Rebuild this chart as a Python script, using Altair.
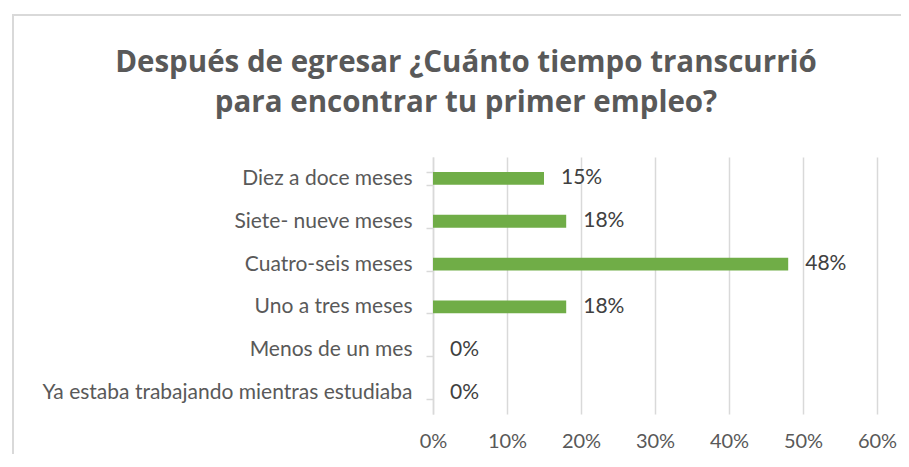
import altair as alt
import pandas as pd

categories = [
    "Diez a doce meses",
    "Siete- nueve meses",
    "Cuatro-seis meses",
    "Uno a tres meses",
    "Menos de un mes",
    "Ya estaba trabajando mientras estudiaba",
]
values = [0.15, 0.18, 0.48, 0.18, 0.0, 0.0]
x_ticks = [0, 0.1, 0.2, 0.3, 0.4, 0.5, 0.6]
title_lines = ["Después de egresar ¿Cuánto tiempo transcurrió", "para encontrar tu primer empleo?"]

df = pd.DataFrame({"cat": categories, "val": values})

FONT = "Lato"
GRAY = "#595959"
GRID = "#d9d9d9"

y_enc = alt.Y(
    "cat:N",
    sort=categories,
    scale=alt.Scale(paddingInner=0.7, paddingOuter=0.35),
    axis=alt.Axis(
        title=None,
        labelFont=FONT,
        labelFontSize=21,
        labelColor=GRAY,
        labelPadding=14,
        labelLimit=500,
        domainColor=GRID,
        domainWidth=1.5,
        tickColor=GRID,
        tickSize=7,
        tickWidth=1.5,
        tickBand="extent",
        grid=False,
    ),
)

x_enc = alt.X(
    "val:Q",
    scale=alt.Scale(domain=[0, 0.6], nice=False),
    axis=alt.Axis(
        title=None,
        values=x_ticks,
        format=".0%",
        labelFont=FONT,
        labelFontSize=20,
        labelColor=GRAY,
        labelPadding=17,
        labelFlush=False,
        labelOverlap=False,
        domain=False,
        ticks=False,
        grid=True,
        gridColor=GRID,
        gridWidth=1.5,
    ),
)

border = alt.Chart(alt.Data(values=[{"a": 1}])).mark_rect(
    fill=None, stroke=GRID, strokeWidth=2
).encode(
    x=alt.value(-420), x2=alt.value(520), y=alt.value(-142), y2=alt.value(330)
)

title = alt.Chart(alt.Data(values=[{"t": "\n".join(title_lines)}])).mark_text(
    font="Open Sans",
    fontSize=29.5,
    fontWeight="bold",
    color=GRAY,
    align="center",
    baseline="alphabetic",
    lineBreak="\n",
    lineHeight=40,
).encode(
    text="t:N", x=alt.value(33), y=alt.value(-85)
)

bars = alt.Chart(df).mark_bar(color="#70ad47").encode(x=x_enc, y=y_enc)

labels = alt.Chart(df).mark_text(
    align="left", dx=17, font=FONT, fontSize=21, color="#404040"
).encode(
    x=alt.X("val:Q"),
    y=alt.Y("cat:N", sort=categories),
    text=alt.Text("val:Q", format=".0%"),
)

chart = alt.layer(border, title, bars, labels).properties(
    width=444,
    height=257,
    autosize=alt.AutoSizeParams(type="none"),
    padding={"left": 425, "top": 149, "right": 24, "bottom": 40},
).configure_view(stroke=None)

chart.save("out.html", embed_options={"renderer": "svg", "actions": False})
